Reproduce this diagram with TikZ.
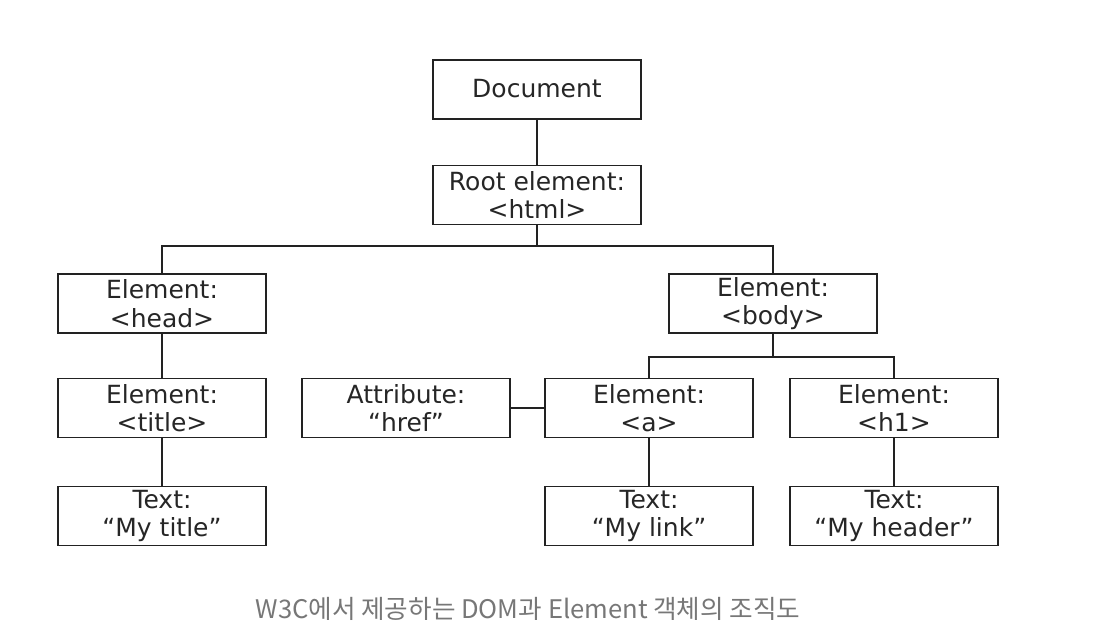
\documentclass[tikz,border=0pt]{standalone}
\usepackage{fontspec}
\setmainfont{DejaVu Sans}
\newfontfamily\krfont{Noto Sans CJK KR}
\definecolor{capgray}{HTML}{777777}
\definecolor{linegray}{HTML}{222222}
\begin{document}
\begin{tikzpicture}[x=1pt,y=-1pt,
  box/.style={draw=linegray, line width=1.8pt, minimum width=208pt, minimum height=59pt,
    inner sep=0pt, align=center, font=\fontsize{25}{28.5}\selectfont, text=black!85},
  conn/.style={draw=linegray, line width=1.8pt}]
\useasboundingbox (0,0) rectangle (1096,634);
\node[box] (doc) at (537,89.5) {\raisebox{2pt}{Document}};
\node[box] (root) at (537,195) {Root element:\\<html>};
\node[box] (head) at (162,303.5) {Element:\\<head>};
\node[box] (body) at (773,303.5) {Element:\\<body>};
\node[box] (title) at (162,408) {Element:\\<title>};
\node[box] (attr) at (406,408) {Attribute:\\“href”};
\node[box] (a) at (649,408) {Element:\\<a>};
\node[box] (h1) at (894,408) {Element:\\<h1>};
\node[box] (t1) at (162,516) {Text:\\“My title”};
\node[box] (t2) at (649,516) {Text:\\“My link”};
\node[box] (t3) at (894,516) {Text:\\“My header”};
\coordinate (j1) at (537,246);
\coordinate (j2) at (773,357);
\draw[conn] (doc) -- (root);
\draw[conn] (root) -- (j1);
\draw[conn] (head.north) |- (j1) -| (body.north);
\draw[conn] (body) -- (j2);
\draw[conn] (a.north) |- (j2) -| (h1.north);
\draw[conn] (head) -- (title);
\draw[conn] (title) -- (t1);
\draw[conn] (attr) -- (a);
\draw[conn] (a) -- (t2);
\draw[conn] (h1) -- (t3);
\node[font=\krfont\fontsize{25.6}{28}\selectfont, text=capgray, inner sep=0pt] (cap) at (528,609) {W3C에서 제공하는 DOM과 Element 객체의 조직도};
\end{tikzpicture}
\end{document}
